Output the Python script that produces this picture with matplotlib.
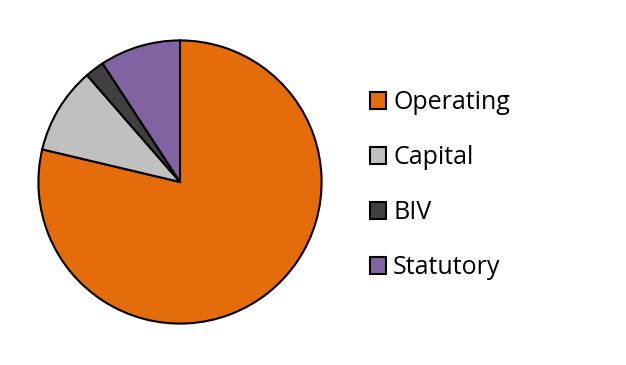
import matplotlib.pyplot as plt

labels = ["Operating", "Capital", "BIV", "Statutory"]
values = [78.7, 9.9, 2.2, 9.2]
colors = ["#E46C0A", "#C0C0C0", "#404040", "#8064A2"]

fig = plt.figure(figsize=(6.26, 3.65), dpi=100)
ax = fig.add_axes([37 / 626, 40 / 365, 286 / 626, 286 / 365])
wedges, _ = ax.pie(values, colors=colors, startangle=90, counterclock=False,
                   wedgeprops=dict(edgecolor="black", linewidth=1.5))
ax.set_xlim(-1.01, 1.01)
ax.set_ylim(-1.01, 1.01)
ax.set_aspect("equal")
ax.axis("off")

fig.legend(wedges, labels, loc="center left", bbox_to_anchor=(347 / 626, 0.493),
           frameon=False, prop=dict(family="Open Sans", size=18),
           handlelength=0.65, handleheight=0.65, handletextpad=0.3,
           labelspacing=1.2)

fig.savefig("out.png", dpi=100)
